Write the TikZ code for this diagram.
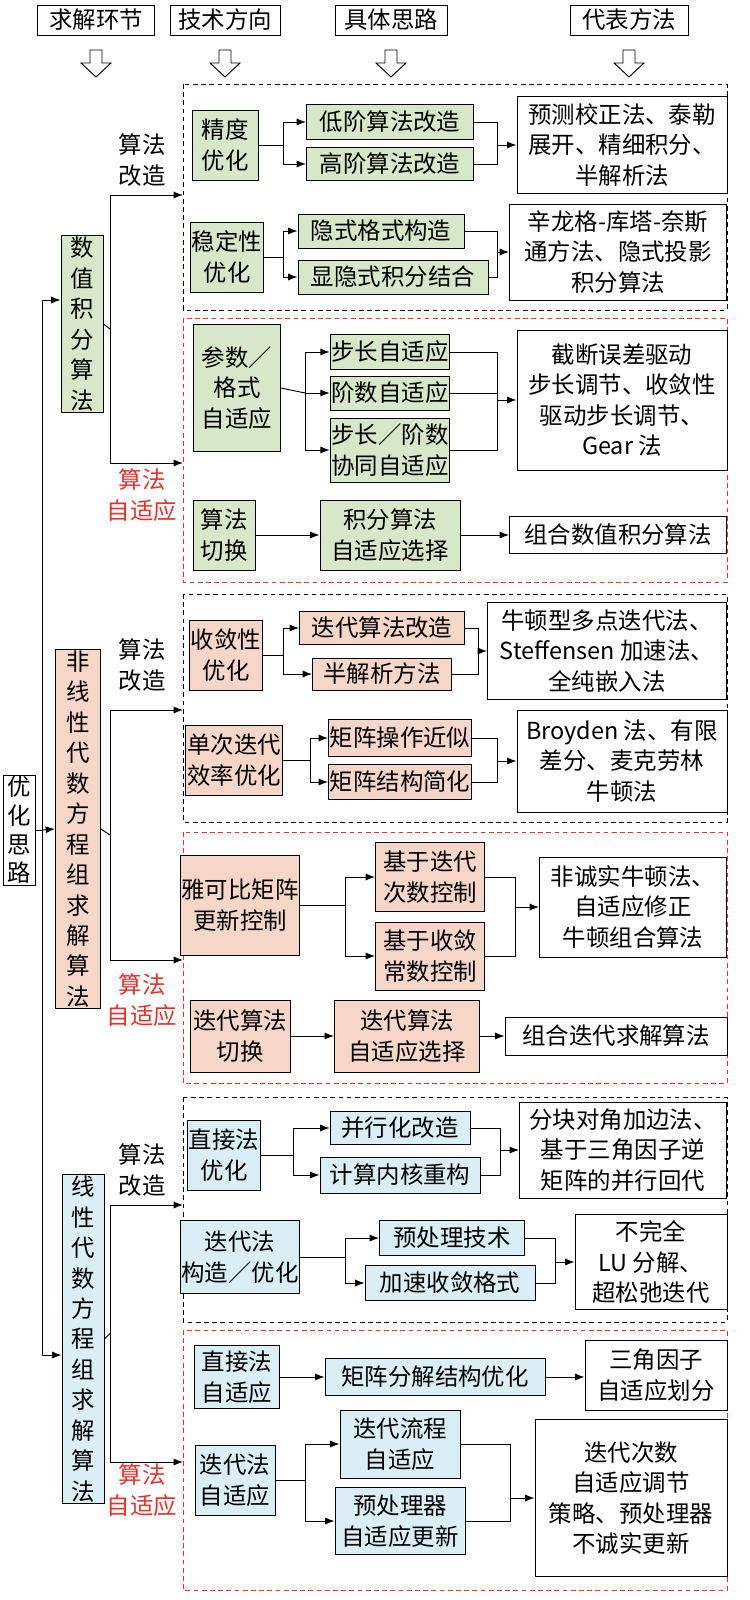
\documentclass[tikz,border=0pt]{standalone}
\usepackage{fontspec}
\setmainfont{Noto Sans CJK SC}
\usetikzlibrary{arrows.meta,positioning}
\definecolor{gfill}{RGB}{214,232,200}
\definecolor{ofill}{RGB}{246,214,198}
\definecolor{bfill}{RGB}{218,238,246}
\definecolor{redd}{RGB}{228,50,45}
\tikzset{
	base/.style={draw, line width=0.8pt, align=center, inner sep=1pt,
		font=\fontsize{20}{26}\selectfont},
	sz/.style 2 args={minimum width=#1*0.03cm, minimum height=#2*0.03cm},
	gbox/.style={base, fill=gfill},
	obox/.style={base, fill=ofill},
	bbox/.style={base, fill=bfill},
	wbox/.style={base, fill=white},
	vbox/.style={base, font=\fontsize{20}{24.5}\selectfont},
	arr/.style={line width=0.8pt, -{Latex[length=8pt,width=6pt]}},
	ln/.style={line width=0.8pt},
	region/.style={line width=0.8pt, dashed, dash pattern=on 4pt off 3pt},
	lab/.style={align=center, font=\fontsize{20}{26}\selectfont},
}
\begin{document}
\begin{tikzpicture}[x=0.03cm,y=-0.03cm]
\useasboundingbox (0,0) rectangle (749,1600);

% header %{{{2
	\node[wbox, sz={117}{30}] (h1) at (96,20) {求解环节};
	\node[wbox, sz={110}{30}] (h2) at (225,20) {技术方向};
	\node[wbox, sz={112}{30}] (h3) at (391,20) {具体思路};
	\node[wbox, sz={118}{30}] (h4) at (629,20) {代表方法};
	\foreach \c in {96,225,391,629} {
		\draw[ln, shift={(\c,0)}] (-6,50) -- (6,50) -- (6,63) -- (15,63) -- (0,77) -- (-15,63) -- (-6,63) -- cycle;
	}

% regions %{{{2
	\draw[region] (183,84) rectangle (727,310);
	\draw[region, redd] (183,318) rectangle (727,582);
	\draw[region] (183,594) rectangle (727,822);
	\draw[region, redd] (183,832) rectangle (727,1083);
	\draw[region] (183,1097) rectangle (727,1322);
	\draw[region, redd] (183,1330) rectangle (727,1590);

% left column %{{{2
	\node[vbox, sz={32}{90}] (yh) at (19,830) {优\\化\\思\\路};
	\node[vbox, gbox, font=\fontsize{20}{26}\selectfont, sz={42}{168}] (sz) at (82,324) {数\\值\\积\\分\\算\\法};
	\node[vbox, obox, sz={45}{322}] (fx) at (78,829) {非\\线\\性\\代\\数\\方\\程\\组\\求\\解\\算\\法};
	\node[vbox, bbox, sz={42}{308}] (xx) at (83,1339) {线\\性\\代\\数\\方\\程\\组\\求\\解\\算\\法};

	\coordinate (t1) at (42,300);
	\coordinate (t3) at (42,1355);
	\draw[ln] (yh.east) -- (42,830);
	\draw[ln] (t1) -- (t3);
	\draw[arr] (t1) -- (t1 -| sz.west);
	\draw[arr] (42,830) -- (fx.west);
	\draw[arr] (t3) -- (t3 -| xx.west);

	\foreach \n/\a/\b in {sz/195/463, fx/710/960, xx/1205/1462} {
		\draw[ln] (\n.east) -- (110,{(\a+\b)/2});
		\draw[ln] (110,\a) -- (110,\b);
		\draw[arr] (110,\a) -- (183,\a);
		\draw[arr] (110,\b) -- (183,\b);
	}
	\node[lab] at (142,160) {算法\\改造};
	\node[lab, text=redd] at (142,495) {算法\\自适应};
	\node[lab] at (142,665) {算法\\改造};
	\node[lab, text=redd] at (142,1000) {算法\\自适应};
	\node[lab] at (142,1170) {算法\\改造};
	\node[lab, text=redd] at (142,1490) {算法\\自适应};

% region 1 %{{{2
	\node[gbox, sz={66}{70}] (jd) at (225,145) {精度\\优化};
	\node[gbox, sz={167}{35}] (dj) at (390,122) {低阶算法改造};
	\node[gbox, sz={167}{33}] (gj) at (390,164) {高阶算法改造};
	\node[wbox, sz={210}{97}] (f1) at (622,145) {预测校正法、泰勒\\展开、精细积分、\\半解析法};
	\node[gbox, sz={70}{70}] (wd) at (227,257) {稳定性\\优化};
	\node[gbox, sz={166}{34}] (ys) at (381,231) {隐式格式构造};
	\node[gbox, sz={190}{34}] (xy) at (393,277) {显隐式积分结合};
	\node[wbox, sz={217}{96}] (f2) at (618,252) {辛龙格-库塔-奈斯\\通方法、隐式投影\\积分算法};

% region 2 %{{{2
	\node[gbox, sz={87}{127}] (cs) at (237,388) {参数／\\格式\\自适应};
	\node[gbox, sz={115}{35}] (bc) at (390,352) {步长自适应};
	\node[gbox, sz={115}{34}] (js) at (390,393) {阶数自适应};
	\node[gbox, sz={115}{64}] (xt) at (390,450) {步长／阶数\\协同自适应};
	\node[wbox, sz={210}{140}] (f3) at (622,400) {截断误差驱动\\步长调节、收敛性\\驱动步长调节、\\Gear 法};
	\node[gbox, sz={62}{70}] (qh) at (224,535) {算法\\切换};
	\node[gbox, sz={140}{70}] (zx) at (390,535) {积分算法\\自适应选择};
	\node[wbox, sz={217}{37}] (f4) at (618,535) {组合数值积分算法};

% region 3 %{{{2
	\node[obox, sz={72}{70}] (sl) at (226,655) {收敛性\\优化};
	\node[obox, sz={165}{33}] (dd) at (382,628) {迭代算法改造};
	\node[obox, sz={139}{32}] (bj) at (382,674) {半解析方法};
	\node[wbox, sz={239}{97}] (f5) at (607,651) {牛顿型多点迭代法、\\Steffensen 加速法、\\全纯嵌入法};
	\node[obox, sz={88}{70}] (dc) at (234,760) {单次迭代\\效率优化};
	\node[obox, sz={140}{37}] (jz) at (400,738) {矩阵操作近似};
	\node[obox, sz={140}{35}] (jg) at (400,782) {矩阵结构简化};
	\node[wbox, sz={210}{102}] (f6) at (622,761) {Broyden 法、有限\\差分、麦克劳林\\牛顿法};

% region 4 %{{{2
	\node[obox, sz={100}{100}] (yk) at (240,905) {雅可比矩阵\\更新控制};
	\node[obox, sz={109}{69}] (jc) at (430,877) {基于迭代\\次数控制};
	\node[obox, sz={109}{68}] (js2) at (430,956) {基于收敛\\常数控制};
	\node[wbox, sz={187}{100}] (f7) at (633,907) {非诚实牛顿法、\\自适应修正\\牛顿组合算法};
	\node[obox, sz={100}{72}] (dq) at (240,1036) {迭代算法\\切换};
	\node[obox, sz={145}{72}] (dx) at (407,1036) {迭代算法\\自适应选择};
	\node[wbox, sz={222}{38}] (f8) at (616,1036) {组合迭代求解算法};

% region 5 %{{{2
	\node[bbox, sz={68}{70}] (zj) at (224,1155) {直接法\\优化};
	\node[bbox, sz={140}{33}] (bx) at (400,1128) {并行化改造};
	\node[bbox, sz={160}{36}] (nh) at (400,1175) {计算内核重构};
	\node[wbox, sz={207}{96}] (f9) at (623,1150) {分块对角加边法、\\基于三角因子逆\\矩阵的并行回代};
	\node[bbox, sz={100}{73}] (dg) at (240,1257) {迭代法\\构造／优化};
	\node[bbox, sz={145}{35}] (yc) at (452,1238) {预处理技术};
	\node[bbox, sz={170}{35}] (js3) at (450,1283) {加速收敛格式};
	\node[wbox, sz={152}{95}] (f10) at (651,1262) {不完全\\LU 分解、\\超松弛迭代};

% region 6 %{{{2
	\node[bbox, sz={85}{63}] (zs) at (237,1377) {直接法\\自适应};
	\node[bbox, sz={220}{37}] (fj) at (435,1377) {矩阵分解结构优化};
	\node[wbox, sz={142}{70}] (f11) at (656,1375) {三角因子\\自适应划分};
	\node[bbox, sz={80}{70}] (dz) at (235,1480) {迭代法\\自适应};
	\node[bbox, sz={120}{68}] (lc) at (400,1444) {迭代流程\\自适应};
	\node[bbox, sz={130}{67}] (yq) at (400,1521) {预处理器\\自适应更新};
	\node[wbox, sz={192}{157}] (f12) at (631,1498) {迭代次数\\自适应调节\\策略、预处理器\\不诚实更新};

% connectors %{{{2
	\foreach \s/\a/\b/\sx/\mx/\f in {
		jd/dj/gj/283/497/f1, wd/ys/xy/283/497/f2,
		sl/dd/bj/283/478/f5, dc/jz/jg/310/497/f6,
		yk/jc/js2/345/515/f7, zj/bx/nh/293/500/f9,
		dg/yc/js3/345/555/f10, dz/lc/yq/305/510/f12} {
		\coordinate (sp) at (\sx,0 |- \s.east);
		\coordinate (mg) at (\mx,0 |- \f.west);
		\draw[ln] (\s.east) -- (sp);
		\draw[arr] (sp) |- (\a.west);
		\draw[arr] (sp) |- (\b.west);
		\draw[ln] (\a.east) -| (mg);
		\draw[ln] (\b.east) -| (mg);
		\draw[arr] (mg) -- (\f.west);
	}
	\draw[ln] (cs.east) -- (305,393);
	\draw[ln] (305,352) -- (305,450);
	\draw[arr] (305,352) -- (bc.west);
	\draw[arr] (305,393) -- (js.west);
	\draw[arr] (305,450) -- (xt.west);
	\draw[ln] (bc.east) -| (497,400);
	\draw[ln] (xt.east) -| (497,400);
	\draw[ln] (js.east) -- (497,393);
	\draw[arr] (497,400) -- (f3.west);

	\draw[arr] (qh) -- (zx);
	\draw[arr] (zx) -- (f4);
	\draw[arr] (dq) -- (dx);
	\draw[arr] (dx) -- (f8);
	\draw[arr] (zs) -- (fj);
	\draw[arr] (fj.east) -- (fj.east -| f11.west);

% closing %{{{2
\end{tikzpicture}
\end{document}
